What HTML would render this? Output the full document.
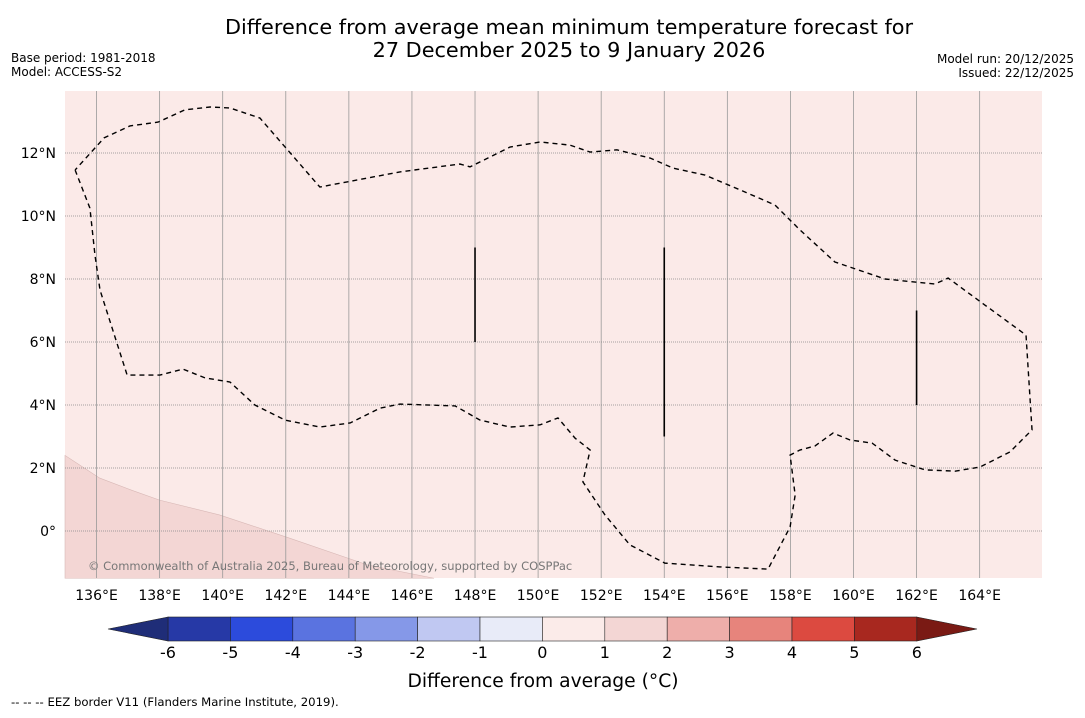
<!DOCTYPE html>
<html><head><meta charset="utf-8"><style>
body{margin:0;background:#fff;font-family:"Liberation Sans","DejaVu Sans",sans-serif;}
svg text{font-family:"DejaVu Sans","Liberation Sans",sans-serif;}
</style></head><body>
<svg width="1085" height="713" xmlns="http://www.w3.org/2000/svg">
<text x="569" y="34" font-size="20.8" text-anchor="middle">Difference from average mean minimum temperature forecast for</text>
<text x="569" y="57" font-size="20.8" text-anchor="middle">27 December 2025 to 9 January 2026</text>
<text x="11" y="62" font-size="12">Base period: 1981-2018</text>
<text x="11" y="76" font-size="12">Model: ACCESS-S2</text>
<text x="1074" y="63" font-size="12" text-anchor="end">Model run: 20/12/2025</text>
<text x="1074" y="77" font-size="12" text-anchor="end">Issued: 22/12/2025</text>
<g id="map"></g>
<g id="cbar"></g>
<text x="543" y="687" font-size="18.7" text-anchor="middle">Difference from average (°C)</text>
<text x="11" y="706" font-size="11.7">--  --  -- EEZ border V11 (Flanders Marine Institute, 2019).</text>
</svg>
<script>
const lonTicks=[136,138,140,142,144,146,148,150,152,154,156,158,160,162,164];
const latTicks=[0,2,4,6,8,10,12];
const eezPx=[[75,170],[90,208],[95,255],[100,290],[127,375],[160,375],[183,369],[205,378],[230,382],[255,405],[285,420],[320,427],[350,423],[380,408],[400,404],[455,406],[480,420],[510,427],[540,425],[558,418],[575,438],[590,450],[583,482],[605,515],[630,545],[665,563],[720,567],[768,569],[790,527],[795,495],[790,455],[800,450],[815,446],[833,433],[850,440],[872,443],[895,460],[925,470],[955,471],[980,467],[1010,452],[1032,430],[1026,335],[985,305],[948,278],[935,284],[885,279],[835,262],[800,230],[775,205],[740,190],[705,175],[673,168],[650,158],[617,150],[590,152],[570,145],[540,142],[510,147],[490,157],[470,167],[460,164],[400,172],[320,187],[260,118],[230,108],[210,107],[185,110],[158,122],[130,126],[104,138],[75,170]];
const eezLon=eezPx.map(p=>+(135+(p[0]-65)/31.54).toFixed(2));
const eezLat=eezPx.map(p=>+((531-p[1])/31.5).toFixed(2));
const segLon=[148,154,162];
const segLat1=[9,9,7];
const segLat2=[6,3,4];
const shadeLon=[135,136.1,137.1,138,139.9,142.1,144.6,146.7];
const shadeLat=[2.4,1.68,1.3,0.98,0.51,-0.22,-1.08,-1.5];
const cbLevels=[-6,-5,-4,-3,-2,-1,0,1,2,3,4,5,6];
const cbColors=["#2639a6","#2c4bdc","#5a73e0","#8598e8","#c0c8f2","#e8ebf8","#fbebe9","#f3d6d4","#eeaeaa","#e7847c","#dc4a40","#a8281f"];
const NS="http://www.w3.org/2000/svg";
function mk(t,a,p){const e=document.createElementNS(NS,t);for(const k in a)e.setAttribute(k,a[k]);p.appendChild(e);return e;}
const X=lon=>65+(lon-135)*31.54, Y=lat=>531-lat*31.5;
const map=document.getElementById('map');
let r=mk('rect',{x:65,y:91,width:977,height:487,fill:'#fbeae8'},map);


let sp='M'+X(135)+','+Y(-1.5)+' '+shadeLon.map((l,i)=>'L'+X(l)+','+Y(shadeLat[i])).join(' ')+' Z';
let sh=mk('path',{d:sp,fill:'#f3d6d4',stroke:'#d8b8b6','stroke-width':0.6},map);


lonTicks.forEach(l=>{
 let g=mk('line',{x1:X(l),x2:X(l),y1:91,y2:578,stroke:'#999','stroke-width':0.8},map);
 
 
 let t=mk('text',{x:X(l),y:600,'font-size':14,'text-anchor':'middle'},map);t.textContent=l+'°E';
 
 
});
latTicks.forEach(l=>{
 let g=mk('line',{x1:65,x2:1042,y1:Y(l),y2:Y(l),stroke:'#888','stroke-width':0.8,'stroke-dasharray':'1,1'},map);
 
 
 let t=mk('text',{x:56,y:Y(l)+5,'font-size':14,'text-anchor':'end'},map);t.textContent=(l===0?'0°':l+'°N');
 
 
});
let ep='M'+eezLon.map((l,i)=>X(l)+','+Y(eezLat[i])).join(' L');
let ez=mk('path',{d:ep,fill:'none',stroke:'#000','stroke-width':1.4,'stroke-dasharray':'5,4'},map);


segLon.forEach((l,i)=>{
 let s=mk('line',{x1:X(l),x2:X(l),y1:Y(segLat1[i]),y2:Y(segLat2[i]),stroke:'#000','stroke-width':1.6},map);
 
 
});
let cp=mk('text',{x:88,y:570,'font-size':11.5,fill:'#777'},map);cp.textContent='© Commonwealth of Australia 2025, Bureau of Meteorology, supported by COSPPac';


const cb=document.getElementById('cbar');
const CX=v=>168+(v+6)*62.4;
cbColors.forEach((c,i)=>{
 let b=mk('rect',{x:CX(cbLevels[i]),y:617,width:CX(cbLevels[i+1])-CX(cbLevels[i]),height:24,fill:c,stroke:'#222','stroke-width':0.6},cb);
 
 
});
let tl=mk('polygon',{points:`${CX(-6)},617 108,629 ${CX(-6)},641`,fill:'#1f2d78',stroke:'#222','stroke-width':0.6},cb);


let tr=mk('polygon',{points:`${CX(6)},617 977,629 ${CX(6)},641`,fill:'#7a1a14',stroke:'#222','stroke-width':0.6},cb);


cbLevels.forEach(v=>{
 let t=mk('text',{x:CX(v),y:658,'font-size':16,'text-anchor':'middle'},cb);t.textContent=String(v);
 
 
});
</script>
</body></html>
